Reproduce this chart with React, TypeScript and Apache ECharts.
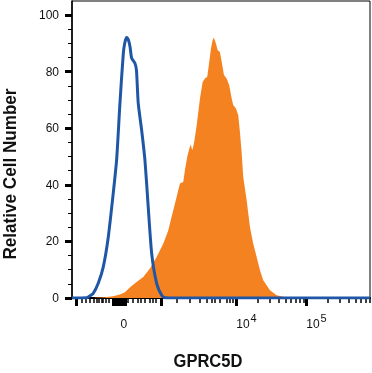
import React, { useEffect, useRef } from "react";
import * as echarts from "echarts";

// x values are in display (biexponential) decade units: 4 => 10^4, 5 => 10^5
const isotypeX = [1.648, 1.853, 1.88, 1.951, 2.023, 2.094, 2.166, 2.237, 2.286, 2.333, 2.381, 2.404, 2.429, 2.454, 2.476, 2.5, 2.547, 2.569, 2.594, 2.643, 2.69, 2.737, 2.786, 2.857, 2.929, 2.976, 3.047, 5.904];
const isotypeY = [0, 0.07, 0.35, 1.66, 5.2, 10.9, 21.5, 37.0, 49.0, 68.9, 86.5, 90.4, 92.1, 91.2, 89.0, 84.8, 83.0, 80.5, 68.9, 59.3, 48.7, 32.1, 15.8, 5.2, 0.96, 0.07, 0, 0];

const gprcX = [1.976, 2.119, 2.233, 2.333, 2.404, 2.447, 2.49, 2.571, 2.666, 2.761, 2.857, 2.951, 3.023, 3.071, 3.119, 3.166, 3.19, 3.237, 3.261, 3.294, 3.323, 3.343, 3.366, 3.39, 3.429, 3.476, 3.514, 3.547, 3.58, 3.609, 3.633, 3.657, 3.676, 3.704, 3.729, 3.761, 3.786, 3.819, 3.857, 3.894, 3.929, 3.951, 3.99, 4.023, 4.047, 4.071, 4.094, 4.143, 4.19, 4.237, 4.286, 4.333, 4.38, 4.476, 4.571, 4.714, 4.833];
const gprcY = [0.07, 0.25, 0.6, 1.2, 2.0, 3.1, 4.1, 5.7, 7.4, 10.4, 14.5, 19.2, 23.9, 28.7, 33.4, 38.1, 40.5, 41.0, 45.2, 49.9, 52.8, 54.3, 52.2, 54.6, 61.1, 70.5, 76.4, 77.6, 78.2, 83.5, 88.2, 91.2, 92.0, 90.0, 87.6, 87.0, 83.5, 78.8, 77.6, 75.2, 70.5, 68.2, 67.0, 64.6, 58.7, 51.6, 42.8, 34.6, 25.1, 19.2, 14.5, 9.8, 6.3, 2.7, 0.96, 0.14, 0];

const xMajorTicks = [1.714, 2.233, 2.261, 2.29, 2.319, 2.347, 2.376, 2.39, 2.404, 2.919, 4, 5];
const xMinorTicks = [1.786, 1.847, 1.904, 1.961, 2.0, 2.037, 2.071, 2.094, 2.133, 2.166, 2.445, 2.517, 2.589, 2.637, 2.684, 2.756, 2.803, 2.841, 3.143, 3.333, 3.476, 3.571, 3.643, 3.69, 3.761, 3.857, 3.904, 3.951, 4.301, 4.477, 4.602, 4.699, 4.778, 4.845, 4.903, 4.954, 5.301, 5.477, 5.602, 5.699, 5.778, 5.845, 5.9];
const xLabelValues = [2.39, 4.14, 5.14];
const xLabelTexts = ["0", "10^4", "10^5"];

const yMajorTicks = [0, 20, 40, 60, 80, 100];
const yMinorTicks = [5, 10, 15, 25, 30, 35, 45, 50, 55, 65, 70, 75, 85, 90, 95];

const xTitle = "GPRC5D";
const yTitle = "Relative Cell Number";

const FONT = "'Liberation Sans', Arial, Helvetica, sans-serif";

export default function App() {
  const ref = useRef<HTMLDivElement>(null);
  useEffect(() => {
    if (!ref.current) return;
    const chart = echarts.init(ref.current, undefined, { renderer: "svg" });
    const zip = (xs: number[], ys: number[]) => xs.map((x, i) => [x, ys[i]]);
    const xMin = 1.648;
    const xMax = 5.905;
    chart.setOption({
      animation: false,
      grid: {
        left: 72,
        right: 2,
        top: 1,
        bottom: 75,
        show: true,
        borderColor: "#000",
        borderWidth: 1,
        backgroundColor: "transparent",
      },
      xAxis: [
        {
          type: "value",
          min: xMin,
          max: xMax,
          position: "bottom",
          splitLine: { show: false },
          axisLine: { show: true, lineStyle: { color: "#000", width: 2 } },
          axisTick: { show: true, customValues: xMajorTicks, length: 8, lineStyle: { color: "#000", width: 3 } },
          axisLabel: {
            show: true,
            customValues: xLabelValues,
            margin: 14,
            color: "#111",
            fontFamily: FONT,
            fontSize: 12,
            formatter: (v: number) => {
              let idx = 0;
              let best = Infinity;
              xLabelValues.forEach((lv, i) => {
                const d = Math.abs(lv - v);
                if (d < best) { best = d; idx = i; }
              });
              const t = xLabelTexts[idx];
              if (t.includes("^")) {
                const [b, s] = t.split("^");
                return `{b|${b}}{s|${s}}`;
              }
              return `{b|${t}}`;
            },
            rich: {
              b: { fontSize: 12, fontFamily: FONT, color: "#111", lineHeight: 18, verticalAlign: "bottom" },
              s: { fontSize: 11, fontFamily: FONT, color: "#111", lineHeight: 18, verticalAlign: "top", padding: [0, 0, 0, 1] },
            },
          },
        },
        {
          type: "value",
          min: xMin,
          max: xMax,
          position: "bottom",
          offset: 0,
          splitLine: { show: false },
          axisLine: { show: false },
          axisTick: { show: true, customValues: xMinorTicks, length: 5, lineStyle: { color: "#000", width: 1.5 } },
          axisLabel: { show: false },
        },
      ],
      yAxis: [
        {
          type: "value",
          min: 0,
          max: 105,
          position: "left",
          splitLine: { show: false },
          axisLine: { show: true, lineStyle: { color: "#000", width: 1.5 } },
          axisTick: { show: true, customValues: yMajorTicks, length: 7, lineStyle: { color: "#000", width: 3 } },
          axisLabel: {
            show: true,
            customValues: yMajorTicks,
            margin: 13,
            color: "#111",
            fontFamily: FONT,
            fontSize: 12,
          },
        },
        {
          type: "value",
          min: 0,
          max: 105,
          position: "left",
          offset: 0,
          splitLine: { show: false },
          axisLine: { show: false },
          axisTick: { show: true, customValues: yMinorTicks, length: 4, lineStyle: { color: "#000", width: 1 } },
          axisLabel: { show: false },
        },
      ],
      graphic: [
        {
          type: "text",
          x: 10,
          y: 174,
          rotation: Math.PI / 2,
          scaleX: 0.95,
          style: {
            text: yTitle,
            fontSize: 18,
            fontWeight: "bold",
            fontFamily: FONT,
            fill: "#111",
            align: "center",
            verticalAlign: "middle",
          },
        },
        {
          type: "text",
          x: 208,
          y: 361,
          scaleX: 0.92,
          style: {
            text: xTitle,
            fontSize: 18,
            fontWeight: "bold",
            fontFamily: FONT,
            fill: "#111",
            align: "center",
            verticalAlign: "middle",
          },
        },
      ],
      series: [
        {
          name: "GPRC5D",
          type: "line",
          xAxisIndex: 0,
          yAxisIndex: 0,
          data: zip(gprcX, gprcY),
          showSymbol: false,
          symbol: "none",
          smooth: false,
          lineStyle: { width: 0, color: "#f58220" },
          areaStyle: { color: "#f58220", opacity: 1 },
          z: 2,
        },
        {
          name: "Isotype",
          type: "line",
          xAxisIndex: 0,
          yAxisIndex: 0,
          data: zip(isotypeX, isotypeY),
          showSymbol: false,
          symbol: "none",
          smooth: 0.2,
          lineStyle: { width: 3, color: "#1f57a6" },
          z: 3,
        },
      ],
    });
    return () => chart.dispose();
  }, []);
  return <div ref={ref} style={{ position: "fixed", left: 0, top: 0, width: 372, height: 373 }} />;
}
